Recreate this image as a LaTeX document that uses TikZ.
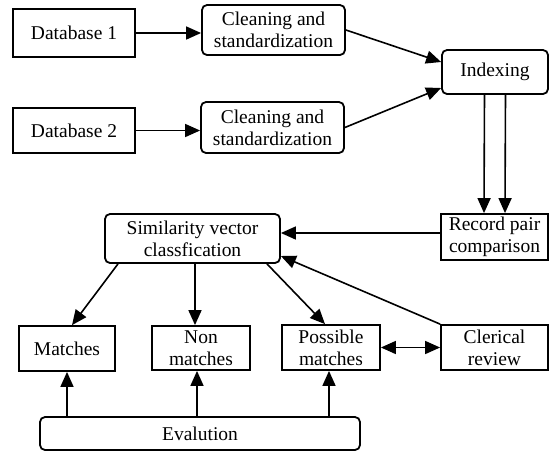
\documentclass[tikz,border=0pt]{standalone}
\usepackage{fontspec}
\setmainfont{Liberation Serif}
\usetikzlibrary{arrows.meta}
\begin{document}
\begin{tikzpicture}[x=1pt,y=-1pt,
  every node/.style={font=\fontsize{19.5}{21.7}\selectfont, align=center, inner sep=0pt, line width=1.8pt},
  sqbox/.style={draw, rectangle},
  rdbox/.style={draw, rectangle, rounded corners=5pt},
  arr/.style={line width=1.6pt, -{Triangle[length=15pt,width=13pt]}},
  darr/.style={line width=1.6pt, {Triangle[length=15pt,width=13pt]}-{Triangle[length=15pt,width=13pt]}}]
\useasboundingbox (0,0) rectangle (549,451);
\node[sqbox, minimum width=122pt, minimum height=48pt] (db1) at (74,33) {Database 1};
\node[rdbox, minimum width=143pt, minimum height=50pt] (cl1) at (273.5,30) {Cleaning and\\standardization};
\node[sqbox, minimum width=122pt, minimum height=45pt] (db2) at (74,130.5) {Database 2};
\node[rdbox, minimum width=143pt, minimum height=51pt] (cl2) at (272.5,127.5) {Cleaning and\\standardization};
\node[rdbox, minimum width=106pt, minimum height=44pt] (idx) at (495,72) {Indexing};
\node[sqbox, minimum width=107pt, minimum height=46pt] (rec) at (494.5,237) {Record pair\\comparison};
\node[rdbox, minimum width=175pt, minimum height=49pt] (sim) at (192.5,238.5) {Similarity vector\\classfication};
\node[sqbox, minimum width=96pt, minimum height=45pt] (mat) at (67,348.5) {Matches};
\node[sqbox, minimum width=98pt, minimum height=44pt] (non) at (201,348) {Non\\matches};
\node[sqbox, minimum width=98pt, minimum height=45pt] (pos) at (331,347.5) {Possible\\matches};
\node[sqbox, minimum width=107pt, minimum height=45pt] (cle) at (494.5,347.5) {Clerical\\review};
\node[rdbox, minimum width=320pt, minimum height=33pt] (eva) at (200,433.5) {Evalution};

\draw[arr] (db1.east) -- (db1.east -| cl1.west);
\draw[arr] (db2.east) -- (db2.east -| cl2.west);
\draw[arr] (cl1.east) -- ([yshift=10pt]idx.west);
\draw[arr] (cl2.east) -- ([yshift=-16pt]idx.west);
\draw[arr] ([xshift=-10.5pt]idx.south) -- ([xshift=-10.5pt]rec.north);
\draw[arr] ([xshift=10.5pt]idx.south) -- ([xshift=10.5pt]rec.north);
\draw[arr] ([yshift=4pt]rec.west) -- ([yshift=4pt]rec.west -| sim.east);
\draw[arr] (cle.north west) -- ([yshift=-17.5pt]sim.east);
\draw[arr] ([xshift=-74.5pt]sim.south) -- ([xshift=5pt]mat.north);
\draw[arr] ([xshift=2.5pt]sim.south) -- ([xshift=2.5pt]sim.south |- non.north);
\draw[arr] ([xshift=74.5pt]sim.south) -- ([xshift=-6pt]pos.north);
\draw[darr] (pos.east) -- (cle.west);
\draw[arr] (mat.south |- eva.north) -- (mat.south);
\draw[arr] ([xshift=-4pt]non.south |- eva.north) -- ([xshift=-4pt]non.south);
\draw[arr] ([xshift=-2pt]pos.south |- eva.north) -- ([xshift=-2pt]pos.south);
\end{tikzpicture}
\end{document}
